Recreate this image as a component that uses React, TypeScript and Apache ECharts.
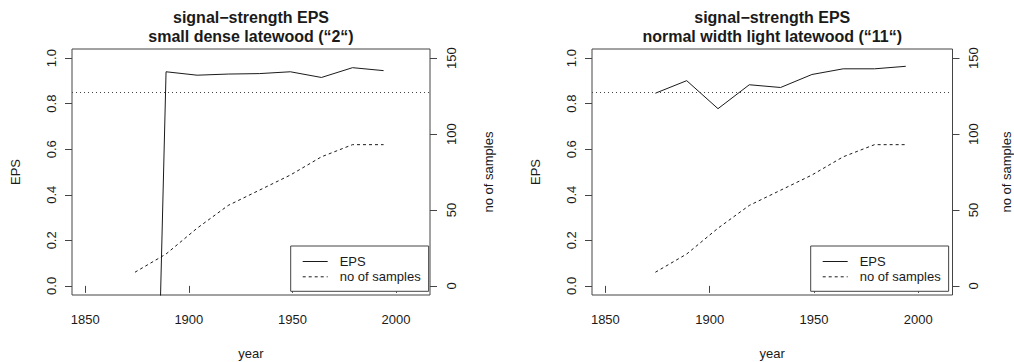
import React, { useEffect, useRef } from "react";
import * as echarts from "echarts";

// ---- data ----
const years = [1874, 1889, 1904, 1919, 1934, 1949, 1964, 1979, 1994];
const epsDense = [-4.6, 0.94, 0.925, 0.93, 0.932, 0.94, 0.915, 0.958, 0.945];
const samplesDense = [9, 21, 38, 53, 63, 73, 85, 93, 93];
const epsLight = [0.846, 0.901, 0.778, 0.883, 0.871, 0.928, 0.953, 0.953, 0.964];
const samplesLight = [9, 21, 38, 53, 63, 73, 85, 93, 93];
const EPS_THRESHOLD = 0.85;

const yearTicks = [1850, 1900, 1950, 2000];
const epsTicks = [0, 0.2, 0.4, 0.6, 0.8, 1.0];
const sampleTicks = [0, 50, 100, 150];

const titlesTop = ["signal\u2212strength EPS", "signal\u2212strength EPS"];
const titlesBottom = ["small dense latewood (\u201c2\u201c)", "normal width light latewood (\u201c11\u201c)"];
const xName = "year";
const yLeftName = "EPS";
const yRightName = "no of samples";
const legendNames = ["EPS", "no of samples"];

// axis ranges (R style 4% extension)
const X_MIN = 1843.6;
const X_MAX = 2016.4;
const EPS_MIN = -0.04;
const EPS_MAX = 1.04;
const S_MIN = -6;
const S_MAX = 156;

const FONT = "'Liberation Sans', Arial, Helvetica, sans-serif";
const INK = "#1a1a1a";
const BOX = "#444";

const panels = [
  { left: 72, top: 49, width: 358, height: 246, eps: epsDense, samples: samplesDense, rightNameX: 488 },
  { left: 592, top: 49, width: 360.5, height: 246, eps: epsLight, samples: samplesLight, rightNameX: 1006 },
];

export default function App() {
  const ref = useRef<HTMLDivElement>(null);
  useEffect(() => {
    document.body.style.margin = "0";
    const chart = echarts.init(ref.current!, null, { renderer: "svg" });

    const grid: any[] = [];
    const xAxis: any[] = [];
    const yAxis: any[] = [];
    const series: any[] = [];
    const legend: any[] = [];
    const title: any[] = [];
    const graphic: any[] = [];

    panels.forEach((p, i) => {
      grid.push({
        left: p.left,
        top: p.top,
        width: p.width,
        height: p.height,
        show: true,
        borderColor: BOX,
        borderWidth: 1,
        backgroundColor: "transparent",
        containLabel: false,
      });
      xAxis.push({
        type: "value",
        gridIndex: i,
        min: X_MIN,
        max: X_MAX,
        axisLine: { show: false },
        splitLine: { show: false },
        axisTick: { show: true, inside: false, length: 7, lineStyle: { color: BOX }, customValues: yearTicks },
        axisLabel: {
          customValues: yearTicks,
          margin: 17.5,
          color: INK,
          fontSize: 13,
          fontFamily: FONT,
          formatter: (v: number) => String(Math.round(v)),
        },
      });
      yAxis.push({
        type: "value",
        gridIndex: i,
        position: "left",
        min: EPS_MIN,
        max: EPS_MAX,
        axisLine: { show: false },
        splitLine: { show: false },
        axisTick: { show: true, inside: false, length: 7, lineStyle: { color: BOX }, customValues: epsTicks },
        axisLabel: {
          customValues: epsTicks,
          rotate: 90,
          margin: 14.5,
          color: INK,
          fontSize: 13,
          fontFamily: FONT,
          formatter: (v: number) => v.toFixed(1),
        },
      });
      yAxis.push({
        type: "value",
        gridIndex: i,
        position: "right",
        min: S_MIN,
        max: S_MAX,
        axisLine: { show: false },
        splitLine: { show: false },
        axisTick: { show: true, inside: false, length: 7, lineStyle: { color: BOX }, customValues: sampleTicks },
        axisLabel: {
          customValues: sampleTicks,
          rotate: 90,
          margin: 14.5,
          color: INK,
          fontSize: 13,
          fontFamily: FONT,
          formatter: (v: number) => String(Math.round(v)),
        },
      });
      series.push({
        name: legendNames[0],
        type: "line",
        xAxisIndex: i,
        yAxisIndex: i * 2,
        data: years.map((y, k) => [y, p.eps[k]]),
        symbol: "none",
        showSymbol: false,
        clip: true,
        lineStyle: { color: INK, width: 1, type: "solid" },
        itemStyle: { color: INK },
        markLine: {
          silent: true,
          symbol: "none",
          label: { show: false },
          lineStyle: { color: BOX, width: 1, type: [1, 3] },
          data: [{ yAxis: EPS_THRESHOLD }],
        },
      });
      series.push({
        name: legendNames[1],
        type: "line",
        xAxisIndex: i,
        yAxisIndex: i * 2 + 1,
        data: years.map((y, k) => [y, p.samples[k]]),
        symbol: "none",
        showSymbol: false,
        clip: true,
        lineStyle: { color: INK, width: 1, type: [3, 3] },
        itemStyle: { color: INK },
      });
      legend.push({
        data: legendNames,
        orient: "vertical",
        left: p.left + 218.7,
        top: 246,
        padding: [9, 8, 8, 11.5],
        itemWidth: 25,
        itemHeight: 14,
        itemGap: 2.3,
        selectedMode: false,
        backgroundColor: "#fff",
        borderColor: BOX,
        borderWidth: 1,
        borderRadius: 0,
        lineStyle: { width: 1 },
        itemStyle: { color: "transparent", borderColor: "transparent", borderWidth: 0, opacity: 0 },
        textStyle: { color: INK, fontSize: 13, fontFamily: FONT, padding: [0, 0, 0, 7] },
      });
      const cx = p.left + p.width / 2;
      title.push({
        text: titlesTop[i] + "\n" + titlesBottom[i],
        left: cx,
        textAlign: "center",
        top: 8,
        padding: 0,
        textStyle: { color: INK, fontSize: 16, fontWeight: "bold", fontFamily: FONT, lineHeight: 19 },
      });
      const cy = p.top + p.height / 2;
      const txt = (text: string, x: number, y: number, rot: number) => ({
        type: "text",
        x,
        y,
        rotation: rot,
        silent: true,
        style: {
          text,
          fill: INK,
          font: `13px ${FONT}`,
          textAlign: "center",
          textVerticalAlign: "middle",
          align: "center",
          verticalAlign: "middle",
        },
      });
      graphic.push(txt(xName, cx, 353, 0));
      graphic.push(txt(yLeftName, p.left - 56.5, cy, Math.PI / 2));
      graphic.push(txt(yRightName, p.rightNameX, cy, Math.PI / 2));
    });

    chart.setOption({
      animation: false,
      backgroundColor: "#fff",
      textStyle: { fontFamily: FONT },
      title,
      grid,
      xAxis,
      yAxis,
      legend,
      series,
      graphic,
    });
    return () => chart.dispose();
  }, []);
  return <div ref={ref} style={{ position: "fixed", left: 0, top: 0, width: 1014, height: 362 }} />;
}
